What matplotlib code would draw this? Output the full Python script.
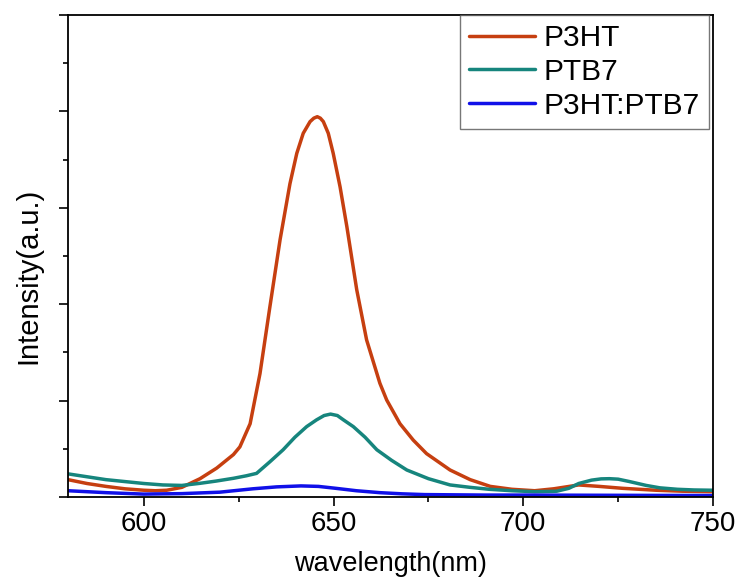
import matplotlib
matplotlib.use("Agg")
import matplotlib.pyplot as plt
from matplotlib.ticker import MultipleLocator, NullFormatter

# ---- data ----
wl_p3ht = [580, 585, 590, 595, 600, 603, 606, 610, 614.8, 619.2, 623.6, 625.3, 628,
           630.6, 633.2, 635.9, 638.5, 640.3, 642.0, 643.8, 644.8, 645.7, 646.5,
           647.3, 648.6, 649.9, 651.7, 653.5, 656.1, 658.7, 662.2, 664.0, 667.5,
           671.0, 674.5, 680.7, 686, 691.3, 697, 703, 708, 714.6, 720, 726.2,
           735, 742, 750]
int_p3ht = [0.18, 0.14, 0.11, 0.085, 0.07, 0.065, 0.07, 0.10, 0.19, 0.30, 0.44, 0.52, 0.76,
            1.28, 1.97, 2.67, 3.25, 3.565, 3.773, 3.894, 3.93, 3.945, 3.93,
            3.894, 3.773, 3.565, 3.219, 2.804, 2.15, 1.63, 1.18, 1.006, 0.76,
            0.59, 0.45, 0.28, 0.18, 0.11, 0.08, 0.065, 0.085, 0.125, 0.11, 0.09,
            0.07, 0.06, 0.055]

wl_ptb7 = [580, 585, 590, 595, 600, 605, 610, 614.8, 619, 623.6, 627, 629.7, 633.2,
           636.7, 639.8, 642.9, 645.5, 647.5, 649.2, 651, 652.6, 655.2, 658.3,
           661.4, 665.3, 669.3, 675, 680.7, 686, 691, 697, 703, 708.8, 712, 714.6,
           718, 720.5, 722.7, 725, 728, 732.4, 736, 740.6, 745, 750]
int_ptb7 = [0.24, 0.21, 0.18, 0.16, 0.14, 0.125, 0.12, 0.142, 0.165, 0.194, 0.22, 0.245, 0.365,
            0.49, 0.62, 0.73, 0.80, 0.845, 0.86, 0.845, 0.80, 0.73, 0.62,
            0.49, 0.38, 0.28, 0.19, 0.125, 0.10, 0.08, 0.065, 0.055, 0.06, 0.09, 0.14,
            0.175, 0.188, 0.19, 0.185, 0.16, 0.12, 0.095, 0.08, 0.073, 0.07]

wl_blend = [580, 590, 600, 610, 620, 628.7, 635, 641.4, 646, 650.6, 656, 662.2,
            668, 674, 690, 700, 720, 750]
int_blend = [0.065, 0.045, 0.03, 0.035, 0.05, 0.085, 0.105, 0.115, 0.11, 0.09, 0.065, 0.045,
             0.033, 0.025, 0.02, 0.02, 0.018, 0.015]

series_names = ["P3HT", "PTB7", "P3HT:PTB7"]
series_colors = ["#C63F10", "#16857D", "#1010E8"]

x_ticks = [600, 650, 700, 750]

# ---- plot ----
plt.rcParams['font.family'] = ['Liberation Sans', 'DejaVu Sans']
fig = plt.figure(figsize=(7.42, 5.81), dpi=100)
ax = fig.add_axes([68/742, (581-497)/581, (713-68)/742, (497-15)/581])

for wl, val, name, col in zip([wl_p3ht, wl_ptb7, wl_blend],
                              [int_p3ht, int_ptb7, int_blend],
                              series_names, series_colors):
    ax.plot(wl, val, color=col, lw=2.5, label=name, solid_capstyle='round',
            solid_joinstyle='round')

ax.set_xlim(580, 750)
ax.set_ylim(0, 5)
ax.set_xticks(x_ticks)
ax.xaxis.set_minor_locator(MultipleLocator(25))
ax.yaxis.set_major_locator(MultipleLocator(1))
ax.yaxis.set_minor_locator(MultipleLocator(0.5))
ax.yaxis.set_major_formatter(NullFormatter())
ax.tick_params(axis='both', which='major', direction='out', length=6.5, width=1.2,
               labelsize=20, pad=3.5)
ax.tick_params(axis='both', which='minor', direction='out', length=3.6, width=1.2)
for s in ax.spines.values():
    s.set_linewidth(1.3)

ax.set_xlabel("wavelength(nm)", fontsize=19.5)
ax.xaxis.set_label_coords(0.5, (497 - 551) / 482)
ax.set_ylabel("Intensity(a.u.)", fontsize=21)
ax.yaxis.set_label_coords((42 - 68) / 645, (497 - 276) / 482)

leg = ax.legend(loc='upper right', bbox_to_anchor=(1 - 4/645, 1.0), fontsize=21.5,
                frameon=True, fancybox=False, handlelength=2.2, handletextpad=0.3,
                borderpad=0.3, labelspacing=0.2, borderaxespad=0)
leg.get_frame().set_edgecolor('#555555')
leg.get_frame().set_linewidth(1.0)

fig.savefig("out.png", dpi=100)
